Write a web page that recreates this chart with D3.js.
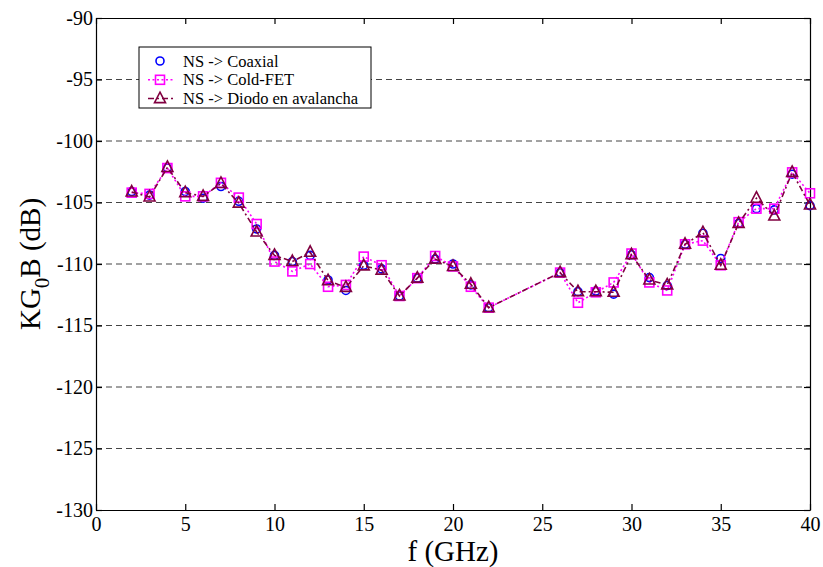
<!DOCTYPE html>
<html lang="en">
<head>
<meta charset="UTF-8">
<title>KG0B</title>
<script src="https://cdnjs.cloudflare.com/ajax/libs/d3/7.8.5/d3.min.js"></script>
<style>
    body{ margin:0; background:#fff; }
    .grid line{ stroke:#444; stroke-dasharray:6,4; }
</style>
</head>
<body>
<div id="chart"></div>
<script>
// frequencies (GHz)
var freq = [2,3,4,5,6,7,8,9,10,11,12,13,14,15,16,17,18,19,20,21,22,26,27,28,29,30,31,32,33,34,35,36,37,38,39,40];

var coaxial = [-104.1,-104.4,-102.2,-104.1,-104.65,-103.7,-104.9,-107.15,-109.3,-109.8,-109.3,-111.3,-112.15,-110.1,-110.4,-112.6,-111.15,-109.6,-110.0,-111.7,-113.55,
               -110.7,-112.25,-112.2,-112.45,-109.25,-111.1,-111.75,-108.4,-107.5,-109.55,-106.7,-105.5,-105.6,-102.7,-105.25];
var coldFet = [-104.2,-104.3,-102.2,-104.5,-104.5,-103.4,-104.6,-106.75,-109.8,-110.6,-110.0,-111.85,-111.7,-109.4,-110.1,-112.6,-111.15,-109.35,-110.2,-111.85,-113.55,
               -110.7,-113.15,-112.3,-111.5,-109.15,-111.5,-112.15,-108.4,-108.1,-110.1,-106.6,-105.5,-105.5,-102.55,-104.25];
var diodo   = [-104.15,-104.55,-102.15,-104.2,-104.5,-103.45,-105.05,-107.4,-109.3,-109.8,-109.05,-111.35,-111.9,-110.15,-110.5,-112.6,-111.15,-109.6,-110.2,-111.65,-113.55,
               -110.7,-112.25,-112.25,-112.3,-109.25,-111.3,-111.7,-108.4,-107.45,-110.1,-106.7,-104.65,-106.1,-102.55,-105.2];

var xTicks = [0,5,10,15,20,25,30,35,40];
var yTicks = [-130,-125,-120,-115,-110,-105,-100,-95,-90];
var legendLabels = ["NS -> Coaxial","NS -> Cold-FET","NS -> Diodo en avalancha"];

var FONT = "Liberation Serif";
var W = 823, H = 567;
var m = {left:96, right:13, top:18, bottom:57};
var iw = W - m.left - m.right, ih = H - m.top - m.bottom;

var x = d3.scaleLinear().domain([0,40]).range([0,iw]);
var y = d3.scaleLinear().domain([-130,-90]).range([ih,0]);
var fmt = function(d){ return String(d); };  // plain hyphen minus

var svg = d3.select("#chart").append("svg").attr("width",W).attr("height",H);
var g = svg.append("g").attr("transform","translate("+m.left+","+m.top+")");

// dashed horizontal grid
g.append("g").attr("class","grid")
    .selectAll("line").data(yTicks.filter(function(d){ return d>-130 && d<-90; }))
    .enter().append("line")
    .attr("x1",0).attr("x2",iw)
    .attr("y1",function(d){ return y(d); }).attr("y2",function(d){ return y(d); });

// axes, ticks pointing inward
var ax = g.append("g").attr("transform","translate(0,"+ih+")")
    .call(d3.axisBottom(x).tickValues(xTicks).tickSizeInner(-6).tickSizeOuter(0).tickPadding(5).tickFormat(fmt));
var ay = g.append("g")
    .call(d3.axisLeft(y).tickValues(yTicks).tickSizeInner(-6).tickSizeOuter(0).tickPadding(3).tickFormat(fmt));
var axT = g.append("g")
    .call(d3.axisTop(x).tickValues(xTicks).tickSizeInner(-6).tickSizeOuter(0).tickFormat(""));
var ayR = g.append("g").attr("transform","translate("+iw+",0)")
    .call(d3.axisRight(y).tickValues(yTicks).tickSizeInner(-6).tickSizeOuter(0).tickFormat(""));
[ax,ay,axT,ayR].forEach(function(a){
    a.attr("font-size",20);
    a.selectAll("path,line").attr("stroke","#000").attr("stroke-width",1.2);
    a.selectAll("text").attr("fill","#000");
});
ax.selectAll("text").attr("dy","0.8em");

// axis labels
svg.append("text").attr("x",m.left+iw/2).attr("y",H-6).attr("text-anchor","middle")
    .attr("font-size",29).text("f (GHz)");
var yl = svg.append("text").attr("transform","translate(40,"+(m.top+ih/2)+") rotate(-90)")
    .attr("text-anchor","middle").attr("font-size",29);
yl.append("tspan").text("KG");
yl.append("tspan").attr("dy",9).attr("font-size",21).text("0");
yl.append("tspan").attr("dy",-9).text("B (dB)");

var series = [
    {vals:coaxial, color:"#0000ff", dash:null, marker:"circle", line:false},
    {vals:coldFet, color:"#ff00ff", dash:"2,2.5", marker:"square", line:true},
    {vals:diodo,   color:"#800040", dash:"6,3,2,3", marker:"triangle", line:true}
];

var line = d3.line().x(function(d){ return x(d[0]); }).y(function(d){ return y(d[1]); });

function drawMarker(sel, type, color){
    if(type==="circle"){
        sel.append("circle").attr("r",4).attr("fill","none").attr("stroke",color).attr("stroke-width",1.6);
    }else if(type==="square"){
        sel.append("rect").attr("x",-4.5).attr("y",-4.5).attr("width",9).attr("height",9)
            .attr("fill","none").attr("stroke",color).attr("stroke-width",1.6);
    }else{
        sel.append("path").attr("d","M0,-6.5L5.5,4L-5.5,4Z")
            .attr("fill","none").attr("stroke",color).attr("stroke-width",1.6);
    }
}

series.forEach(function(s){
    var pts = freq.map(function(f,i){ return [f, s.vals[i]]; });
    if(s.line){
        g.append("path").datum(pts).attr("d",line).attr("fill","none")
            .attr("stroke",s.color).attr("stroke-width",1.6).attr("stroke-dasharray",s.dash);
    }
    var mk = g.append("g").selectAll("g").data(pts).enter().append("g")
        .attr("transform",function(d){ return "translate("+x(d[0])+","+y(d[1])+")"; });
    drawMarker(mk, s.marker, s.color);
});

// legend
var lg = svg.append("g").attr("transform","translate(139,47)");
lg.append("rect").attr("width",232).attr("height",61).attr("fill","#fff").attr("stroke","#000").attr("stroke-width",1);
series.forEach(function(s,i){
    var ly = 14 + i*18.8;
    if(s.line){
        lg.append("line").attr("x1",9).attr("x2",34).attr("y1",ly).attr("y2",ly)
            .attr("stroke",s.color).attr("stroke-width",1.5).attr("stroke-dasharray",s.dash);
    }
    var mk = lg.append("g").attr("transform","translate(21,"+ly+")");
    drawMarker(mk, s.marker, s.color);
    lg.append("text").attr("x",44).attr("y",ly+5.5).attr("font-size",16.5).text(legendLabels[i]);
});

// serif everywhere (inline style beats the axis default)
svg.selectAll("text").style("font-family", FONT);
</script>
</body>
</html>
